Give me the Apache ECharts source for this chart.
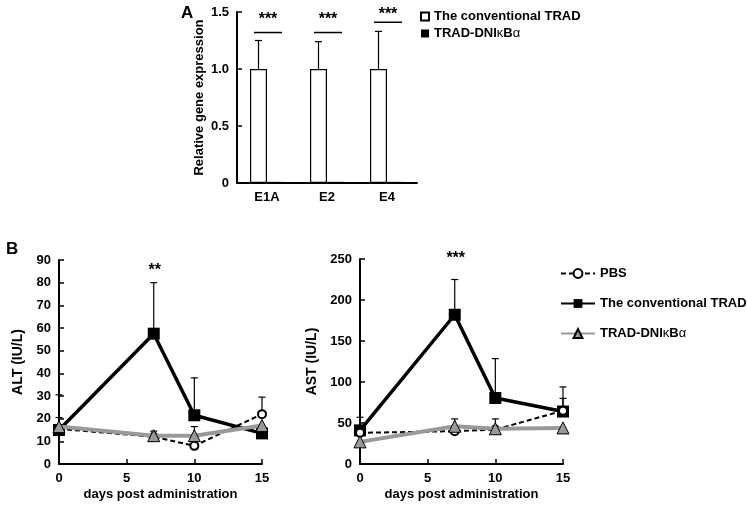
<!DOCTYPE html>
<html><head><meta charset="utf-8">
<script src="https://cdn.jsdelivr.net/npm/echarts@6/dist/echarts.min.js"></script>
<style>html,body{margin:0;padding:0;background:#fff}#c{width:747px;height:509px}</style>
</head><body><div id="c"></div>
<script>
// ---- Panel A data ----
const categoriesA = ['E1A', 'E2', 'E4'];
const convA = [1.0, 1.0, 1.0];
const convA_sd = [0.25, 0.24, 0.33];
const dnA = [0.01, 0.01, 0.01];
const sigA_line = [1.32, 1.32, 1.41];
const sigA_star = [1.43, 1.43, 1.48];
const sigA_text = ['***', '***', '***'];
const yTicksA = [0, 0.5, 1.0, 1.5];

// ---- Panel B data ----
const days = [0, 7, 10, 15];
const pbsALT = [15.5, 12, 8, 22];
const pbsALT_sd = [5, 0, 0, 7.5];
const convALT = [15, 57.5, 21.5, 13.5];
const convALT_sd = [15.5, 22.5, 16.5, 0];
const dnALT = [16.5, 12.5, 12.5, 17];
const dnALT_sd = [0, 2, 4, 0];

const pbsAST = [38, 40, 42, 65];
const pbsAST_sd = [0, 0, 0, 15];
const convAST = [41, 182, 80.5, 64];
const convAST_sd = [16, 43, 48, 30];
const dnAST = [27, 46, 43, 44];
const dnAST_sd = [0, 9, 12, 0];

const sigALT = {day: 7, y: 85.5, text: '**'};
const sigAST = {day: 7, y: 250, text: '***'};

const FONT = 'Liberation Sans, Arial, sans-serif';
const chart = echarts.init(document.getElementById('c'));

function errData(x, mean, sd) {
  const out = [];
  x.forEach((d, i) => { if (sd[i] > 0) out.push([d, mean[i], mean[i] + sd[i]]); });
  return out;
}
function errRender(offset) {
  return function (params, api) {
    const p0 = api.coord([api.value(0), api.value(1)]);
    const p1 = api.coord([api.value(0), api.value(2)]);
    const x = p0[0] + offset, w = 3.5;
    return {type: 'group', children: [
      {type: 'line', shape: {x1: x, y1: p0[1], x2: x, y2: p1[1]}, style: {stroke: '#000', lineWidth: 1.2}},
      {type: 'line', shape: {x1: x - w, y1: p1[1], x2: x + w, y2: p1[1]}, style: {stroke: '#000', lineWidth: 1.2}}
    ]};
  };
}
function starRender(withLine) {
  return function (params, api) {
    const c = api.coord([api.value(0), api.value(1)]);
    const s = api.coord([api.value(0), api.value(2)]);
    const children = [{type: 'text', x: s[0] + 1, y: s[1], style: {text: api.value(3), font: 'bold 16px ' + FONT, fill: '#000', align: 'center', verticalAlign: 'middle'}}];
    if (withLine) children.push({type: 'line', shape: {x1: c[0] - 13, y1: c[1], x2: c[0] + 15, y2: c[1]}, style: {stroke: '#000', lineWidth: 1.5}});
    return {type: 'group', children: children};
  };
}

const axisLine = {lineStyle: {color: '#000', width: 2}};
const axisTick = {inside: true, length: 5, lineStyle: {color: '#000', width: 1.5}};
const axisLabel = {color: '#000', fontFamily: FONT, fontWeight: 'bold', fontSize: 13};
const nameStyle = {color: '#000', fontFamily: FONT, fontWeight: 'bold', fontSize: 13};

const lineSeries = (name, xi, yi, data, kind) => {
  const base = {name: name, type: 'line', xAxisIndex: xi, yAxisIndex: yi, data: days.map((d, i) => [d, data[i]]), z: 3};
  if (kind === 'pbs') Object.assign(base, {symbol: 'circle', symbolSize: 8, lineStyle: {color: '#000', width: 2, type: [5, 3]}, itemStyle: {color: '#fff', borderColor: '#000', borderWidth: 2}, z: 4});
  if (kind === 'conv') Object.assign(base, {symbol: 'rect', symbolSize: 12, lineStyle: {color: '#000', width: 3.5}, itemStyle: {color: '#000'}, z: 3});
  if (kind === 'dn') Object.assign(base, {symbol: 'triangle', symbolSize: 12, lineStyle: {color: '#999', width: 4}, itemStyle: {color: '#999', borderColor: '#000', borderWidth: 1}, z: 5});
  return base;
};
const errSeries = (xi, yi, data) => ({type: 'custom', xAxisIndex: xi, yAxisIndex: yi, data: data, renderItem: errRender(0), z: 2, silent: true});

const richName = {
  b: {fontFamily: FONT, fontWeight: 'bold', fontSize: 13, color: '#000'},
  g: {fontFamily: FONT, fontWeight: 'normal', fontSize: 13, color: '#000'}
};
function fmtName(n) {
  const map = {'TRAD-DNIκBα': '{b|TRAD-DNI}{g|κ}{b|B}{g|α}', 'dnB': '{b|TRAD-DNI}{g|κ}{b|B}{g|α}', 'convB': '{b|The conventional TRAD}', 'PBS': '{b|PBS}', 'The conventional TRAD': '{b|The conventional TRAD}'};
  return map[n] || n;
}

chart.setOption({
  animation: false,
  backgroundColor: '#fff',
  title: [
    {text: 'A', left: 176, top: 0, textStyle: {fontFamily: FONT, fontWeight: 'bold', fontSize: 17, color: '#000'}},
    {text: 'B', left: 1, top: 236, textStyle: {fontFamily: FONT, fontWeight: 'bold', fontSize: 17, color: '#000'}}
  ],
  legend: [
    {data: ['The conventional TRAD', 'TRAD-DNIκBα'], orient: 'vertical', left: 415, top: 5, itemWidth: 8, itemHeight: 8, itemGap: 4, icon: 'rect', formatter: fmtName, textStyle: {rich: richName}, selectedMode: false},
    {data: ['PBS', 'convB', 'dnB'], orient: 'vertical', left: 555, top: 262, itemWidth: 34, itemHeight: 11, itemGap: 17, formatter: fmtName, textStyle: {rich: richName}, selectedMode: false}
  ],
  grid: [
    {left: 237, top: 12, width: 180, height: 171},
    {left: 59, top: 260, width: 203, height: 204},
    {left: 360, top: 259, width: 203, height: 205}
  ],
  xAxis: [
    {gridIndex: 0, type: 'category', data: categoriesA, axisLine: axisLine, axisTick: Object.assign({}, axisTick, {alignWithLabel: false}), axisLabel: Object.assign({}, axisLabel, {margin: 8})},
    {gridIndex: 1, type: 'value', min: 0, max: 15, interval: 5, axisLine: axisLine, axisTick: axisTick, axisLabel: axisLabel, splitLine: {show: false}, name: 'days post administration', nameLocation: 'middle', nameGap: 24, nameTextStyle: nameStyle},
    {gridIndex: 2, type: 'value', min: 0, max: 15, interval: 5, axisLine: axisLine, axisTick: axisTick, axisLabel: axisLabel, splitLine: {show: false}, name: 'days post administration', nameLocation: 'middle', nameGap: 24, nameTextStyle: nameStyle}
  ],
  yAxis: [
    {gridIndex: 0, type: 'value', min: 0, max: 1.5, interval: 0.5, axisLine: Object.assign({show: true}, axisLine), axisTick: Object.assign({show: true}, axisTick), axisLabel: Object.assign({}, axisLabel, {formatter: v => v === 0 ? '0' : v.toFixed(1)}), splitLine: {show: false}, name: 'Relative gene expression', nameLocation: 'middle', nameGap: 31, nameTextStyle: nameStyle},
    {gridIndex: 1, type: 'value', min: 0, max: 90, interval: 10, axisLine: Object.assign({show: true}, axisLine), axisTick: Object.assign({show: true}, axisTick), axisLabel: axisLabel, splitLine: {show: false}, name: 'ALT (IU/L)', nameLocation: 'middle', nameGap: 34, nameTextStyle: Object.assign({}, nameStyle, {fontSize: 14})},
    {gridIndex: 2, type: 'value', min: 0, max: 250, interval: 50, axisLine: Object.assign({show: true}, axisLine), axisTick: Object.assign({show: true}, axisTick), axisLabel: axisLabel, splitLine: {show: false}, name: 'AST (IU/L)', nameLocation: 'middle', nameGap: 41, nameTextStyle: Object.assign({}, nameStyle, {fontSize: 14})}
  ],
  series: [
    {name: 'The conventional TRAD', type: 'bar', xAxisIndex: 0, yAxisIndex: 0, data: convA, barWidth: 17, barGap: '0%', itemStyle: {color: '#fff', borderColor: '#000', borderWidth: 1.2}},
    {name: 'TRAD-DNIκBα', type: 'bar', xAxisIndex: 0, yAxisIndex: 0, data: dnA, barWidth: 17, barGap: '0%', itemStyle: {color: '#000'}},
    {type: 'custom', xAxisIndex: 0, yAxisIndex: 0, data: categoriesA.map((c, i) => [i, convA[i], convA[i] + convA_sd[i]]), renderItem: errRender(-8.5), z: 1, silent: true},
    {type: 'custom', xAxisIndex: 0, yAxisIndex: 0, data: categoriesA.map((c, i) => [i, sigA_line[i], sigA_star[i], sigA_text[i]]), renderItem: starRender(true), silent: true},

    errSeries(1, 1, errData(days, pbsALT, pbsALT_sd)),
    errSeries(1, 1, errData(days, convALT, convALT_sd)),
    errSeries(1, 1, errData(days, dnALT, dnALT_sd)),
    lineSeries('PBS', 1, 1, pbsALT, 'pbs'),
    lineSeries('convB', 1, 1, convALT, 'conv'),
    lineSeries('dnB', 1, 1, dnALT, 'dn'),
    {type: 'custom', xAxisIndex: 1, yAxisIndex: 1, data: [[sigALT.day, sigALT.y, sigALT.y, sigALT.text]], renderItem: starRender(false), silent: true},

    errSeries(2, 2, errData(days, pbsAST, pbsAST_sd)),
    errSeries(2, 2, errData(days, convAST, convAST_sd)),
    errSeries(2, 2, errData(days, dnAST, dnAST_sd)),
    lineSeries('PBS', 2, 2, pbsAST, 'pbs'),
    lineSeries('convB', 2, 2, convAST, 'conv'),
    lineSeries('dnB', 2, 2, dnAST, 'dn'),
    {type: 'custom', xAxisIndex: 2, yAxisIndex: 2, data: [[sigAST.day, sigAST.y, sigAST.y, sigAST.text]], renderItem: starRender(false), silent: true}
  ]
});
</script>
</body></html>
